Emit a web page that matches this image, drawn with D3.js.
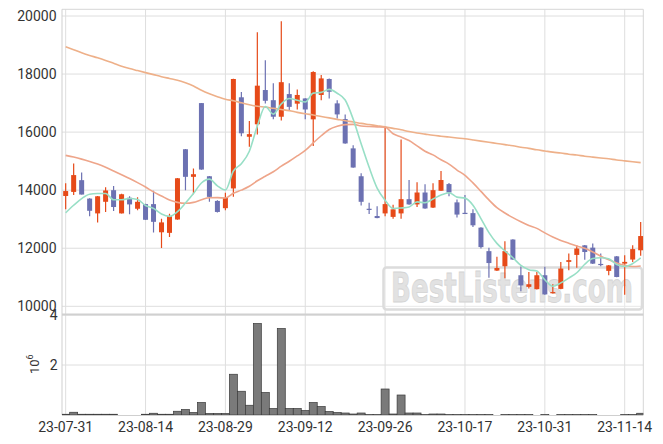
<!DOCTYPE html>
<html><head><meta charset="utf-8">
<script src="https://cdn.jsdelivr.net/npm/d3@7"></script>
<style>body{margin:0;background:#fff}svg{display:block}text{font-family:Roboto,"Noto Sans",sans-serif;fill:#333}</style>
</head><body>
<svg id="c" width="663" height="444"></svg>
<script>
const dates = ["23-07-31","23-08-01","23-08-02","23-08-03","23-08-04","23-08-07","23-08-08","23-08-09","23-08-10","23-08-11",
"23-08-14","23-08-16","23-08-17","23-08-18","23-08-21","23-08-22","23-08-23","23-08-24","23-08-25","23-08-28",
"23-08-29","23-08-30","23-08-31","23-09-01","23-09-04","23-09-05","23-09-06","23-09-07","23-09-08","23-09-11",
"23-09-12","23-09-13","23-09-14","23-09-15","23-09-18","23-09-19","23-09-20","23-09-21","23-09-22","23-09-25",
"23-09-26","23-09-27","23-10-04","23-10-05","23-10-06","23-10-10","23-10-11","23-10-12","23-10-13","23-10-16",
"23-10-17","23-10-18","23-10-19","23-10-20","23-10-23","23-10-24","23-10-25","23-10-26","23-10-27","23-10-30",
"23-10-31","23-11-01","23-11-02","23-11-03","23-11-06","23-11-07","23-11-08","23-11-09","23-11-10","23-11-13",
"23-11-14","23-11-15","23-11-16"];
const opens = [13800,13940,14345,13710,13200,13600,14000,13200,13740,13360,
13520,13520,12550,12530,12990,15410,14460,17000,14480,13630,
13380,14060,17200,15840,16270,17450,17100,16530,17310,16980,
17160,16440,17280,17830,16990,16450,15440,14480,13360,13110,
13200,13080,13200,13690,13510,13920,13400,13980,14210,13580,
13220,13210,12710,11900,11230,11380,12300,11070,10670,10590,
11070,10450,10600,11530,11770,12100,12020,11460,11220,11720,
11470,11610,11930];
const highs = [14240,14920,14610,13720,13800,14100,14140,13880,13790,13760,
13530,13980,13020,13190,14420,15420,14750,17000,14490,13650,
13910,17840,17380,16380,19440,18480,17680,19820,17680,17470,
17170,18100,17970,17850,17100,16610,15550,14580,13570,13450,
16180,13500,15750,14350,14270,14200,14240,14660,14250,13680,
13830,13340,12720,12020,11710,12240,12310,11370,11180,11180,
11360,10760,11530,11820,12100,12110,12160,11820,11420,11730,
11760,12100,12900];
const lows = [13340,13830,13850,13100,12890,13250,13280,13200,13170,13310,
12970,12540,12010,12390,12980,14000,13860,14700,13600,13230,
13310,13770,15860,15500,15920,16990,16440,16400,16740,16780,
16440,15520,17100,17160,16470,15600,14770,13470,13180,13030,
13100,13020,13020,13500,13420,13360,13390,13970,13790,13060,
13190,12730,11990,10980,11220,10970,11600,10520,10610,10580,
10400,10440,10590,11240,11330,11600,11460,11380,11070,11000,
10400,11530,11740];
const closes = [13970,14520,13850,13290,13790,13990,13420,13860,13510,13600,
12980,12910,12890,13110,14410,14460,14550,14710,13770,13250,
13740,17830,15960,15930,17600,17080,16530,17720,16870,17280,
16780,18070,17850,17390,16610,15610,14780,13600,13340,13040,
13520,13340,13690,13510,13920,13370,14000,14350,13920,13160,
13200,12790,12040,11490,11320,11900,11610,10720,10760,11070,
10410,10490,11300,11590,11990,11870,11470,11440,11410,11010,
11530,11970,12420];
// volume, in units of 10^6
const volumes = [0.03,0.11,0.03,0.03,0.03,0.03,0.03,0,0,0,
0.03,0.07,0.03,0.03,0.15,0.22,0.1,0.5,0.06,0.06,
0.06,1.63,0.95,0.39,3.66,0.9,0.26,3.46,0.26,0.26,
0.18,0.5,0.34,0.14,0.1,0.08,0.04,0.08,0.02,0.02,
1.04,0.04,0.8,0.08,0.08,0.02,0.04,0.04,0.02,0.02,
0.02,0.02,0.02,0.02,0,0.02,0.02,0.02,0.02,0,
0.02,0,0.02,0.02,0.02,0.02,0.02,0,0,0,
0.02,0.02,0.07];
const ma5 = [13220,13480,13710,13860,13884,13888,13668,13670,13714,13676,
13474,13372,13178,13098,13260,13556,13884,14248,14380,14148,
14004,14660,14910,15342,16212,16880,16620,16972,17160,17096,
17036,17344,17370,17474,17340,17106,16448,15598,14788,14074,
13656,13368,13386,13420,13596,13566,13698,13830,13912,13760,
13726,13484,13022,12536,12168,11908,11672,11408,11262,11212,
10914,10690,10806,10972,11156,11448,11644,11672,11636,11440,
11372,11472,11668];
const ma20 = [15200,15140,15070,14990,14900,14790,14660,14530,14400,14260,
14110,13940,13800,13660,13580,13550,13580,13670,13740,13742,
13731,13896,14002,14134,14324,14479,14634,14827,14995,15179,
15369,15627,15875,16089,16199,16257,16268,16213,16191,16181,
16170,15945,15832,15711,15527,15341,15215,15046,14899,14693,
14514,14250,13959,13664,13400,13214,13056,12912,12783,12684,
12529,12386,12267,12171,12074,11999,11873,11727,11602,11494,
11411,11370,11389];
const ma120 = [18940,18840,18730,18640,18560,18470,18370,18270,18190,18120,
18050,17980,17910,17850,17790,17700,17590,17440,17320,17220,
17130,17080,17010,16940,16890,16860,16820,16780,16740,16680,
16630,16590,16540,16490,16440,16390,16350,16300,16260,16220,
16180,16130,16080,16020,15970,15930,15890,15860,15830,15800,
15770,15730,15690,15650,15610,15570,15530,15480,15440,15390,
15350,15310,15280,15240,15210,15170,15140,15110,15080,15040,
15010,14980,14950];
const priceTicks = [10000,12000,14000,16000,18000,20000];
const volumeTicks = [2,4];
const xTickDates = ["23-07-31","23-08-14","23-08-29","23-09-12","23-09-26","23-10-17","23-10-31","23-11-14"];

const svg = d3.select("#c");
const L = 62, R = 643.3, PT = 9.3, PB = 313.8, VT = 315, VB = 415;
const x = d3.scaleLinear().domain([-0.46, dates.length - 1 + 0.33]).range([L, R]);
const y = d3.scaleLinear().domain([10000, 20000]).range([306.3, 16]);
const yv = d3.scaleLinear().domain([0, 4]).range([VB, VT]);
const idx = d3.range(dates.length);
const grid = "#dedede";

const defs = svg.append("defs");
defs.append("clipPath").attr("id","cp").append("rect").attr("x",L).attr("y",PT).attr("width",R-L).attr("height",PB-PT);
defs.append("clipPath").attr("id","cv").append("rect").attr("x",L).attr("y",VT).attr("width",R-L).attr("height",VB-VT);

// grid
const gG = svg.append("g");
priceTicks.forEach(t => gG.append("line").attr("x1",L).attr("x2",R).attr("y1",y(t)).attr("y2",y(t)).attr("stroke",grid));
volumeTicks.forEach(t => gG.append("line").attr("x1",L).attr("x2",R).attr("y1",yv(t)).attr("y2",yv(t)).attr("stroke",grid));
xTickDates.forEach(d => { const i = dates.indexOf(d); gG.append("line").attr("x1",x(i)).attr("x2",x(i)).attr("y1",PT).attr("y2",VB).attr("stroke",grid); });

// frame
svg.append("line").attr("x1",L).attr("x2",R).attr("y1",PT).attr("y2",PT).attr("stroke","#d6d6d6");
svg.append("line").attr("x1",R).attr("x2",R).attr("y1",PT).attr("y2",VB).attr("stroke","#d6d6d6");
svg.append("line").attr("x1",L).attr("x2",L).attr("y1",PT).attr("y2",VB).attr("stroke","#cfcfcf");
svg.append("line").attr("x1",L).attr("x2",R).attr("y1",314.4).attr("y2",314.4).attr("stroke","#d0d0d0").attr("stroke-width",2);
svg.append("line").attr("x1",L).attr("x2",R).attr("y1",VB+0.5).attr("y2",VB+0.5).attr("stroke","#cfcfcf");

// watermark
const wm = svg.append("g");
wm.append("rect").attr("x",383.5).attr("y",267.5).attr("width",258.5).attr("height",42).attr("rx",3)
  .attr("fill","rgba(255,255,255,0.3)").attr("stroke","#dcdcdc").attr("stroke-width",2.5);
wm.append("text").attr("x",391).attr("y",302).attr("textLength",242).attr("lengthAdjust","spacingAndGlyphs")
  .style("font-family","'DejaVu Sans',sans-serif").style("font-weight","bold").style("font-size","41px")
  .style("fill","#e2e2e2").style("stroke","#d4d4d4").style("stroke-width","0.8").text("BestListens.com");

// candles
const up = "#e64a19", down = "#6c71b2";
const gc = svg.append("g").attr("clip-path","url(#cp)");
const cd = gc.selectAll("g.c").data(idx).join("g");
cd.append("line").attr("x1",i=>x(i)).attr("x2",i=>x(i)).attr("y1",i=>y(highs[i])).attr("y2",i=>y(lows[i]))
  .attr("stroke",i=>closes[i]>=opens[i]?up:down).attr("stroke-width",1.2);
cd.append("rect").attr("x",i=>x(i)-2.5).attr("width",5)
  .attr("y",i=>y(Math.max(opens[i],closes[i])))
  .attr("height",i=>Math.max(1.2, Math.abs(y(opens[i])-y(closes[i]))))
  .attr("fill",i=>closes[i]>=opens[i]?up:down);

// moving averages
const line = arr => d3.line().x(i=>x(i)).y(i=>y(arr[i])).curve(d3.curveMonotoneX)(idx);
gc.append("path").attr("d",line(ma120)).attr("fill","none").attr("stroke","#eeb089").attr("stroke-width",1.6);
gc.append("path").attr("d",line(ma20)).attr("fill","none").attr("stroke","#eea58a").attr("stroke-width",1.6);
gc.append("path").attr("d",line(ma5)).attr("fill","none").attr("stroke","#98dfc6").attr("stroke-width",1.6);

// volume
const gv = svg.append("g").attr("clip-path","url(#cv)");
gv.selectAll("rect").data(idx.filter(i=>volumes[i]>0)).join("rect")
  .attr("x",i=>x(i-0.5)).attr("width",i=>x(i+0.5)-x(i-0.5))
  .attr("y",i=>yv(volumes[i])).attr("height",i=>Math.max(0.8, yv(0)-yv(volumes[i])))
  .attr("fill","#7a7a7a").attr("stroke","#3a3a3a").attr("stroke-width",0.7);

// axis labels
const ga = svg.append("g").style("font-size","14px");
priceTicks.forEach(t => ga.append("text").attr("x",56.5).attr("y",y(t)).attr("dy","0.36em").attr("text-anchor","end").text(t));
volumeTicks.forEach(t => ga.append("text").attr("x",57.5).attr("y",yv(t)).attr("dy","0.36em").attr("text-anchor","end").text(t));
xTickDates.forEach(d => ga.append("text").attr("x",x(dates.indexOf(d))).attr("y",432).attr("text-anchor","middle").text(d));
const u = svg.append("text").attr("transform","translate(38.5,374) rotate(-90)").style("font-size","13px");
u.append("tspan").text("10");
u.append("tspan").attr("dy",-6).style("font-size","9px").text("6");
</script>
</body></html>
